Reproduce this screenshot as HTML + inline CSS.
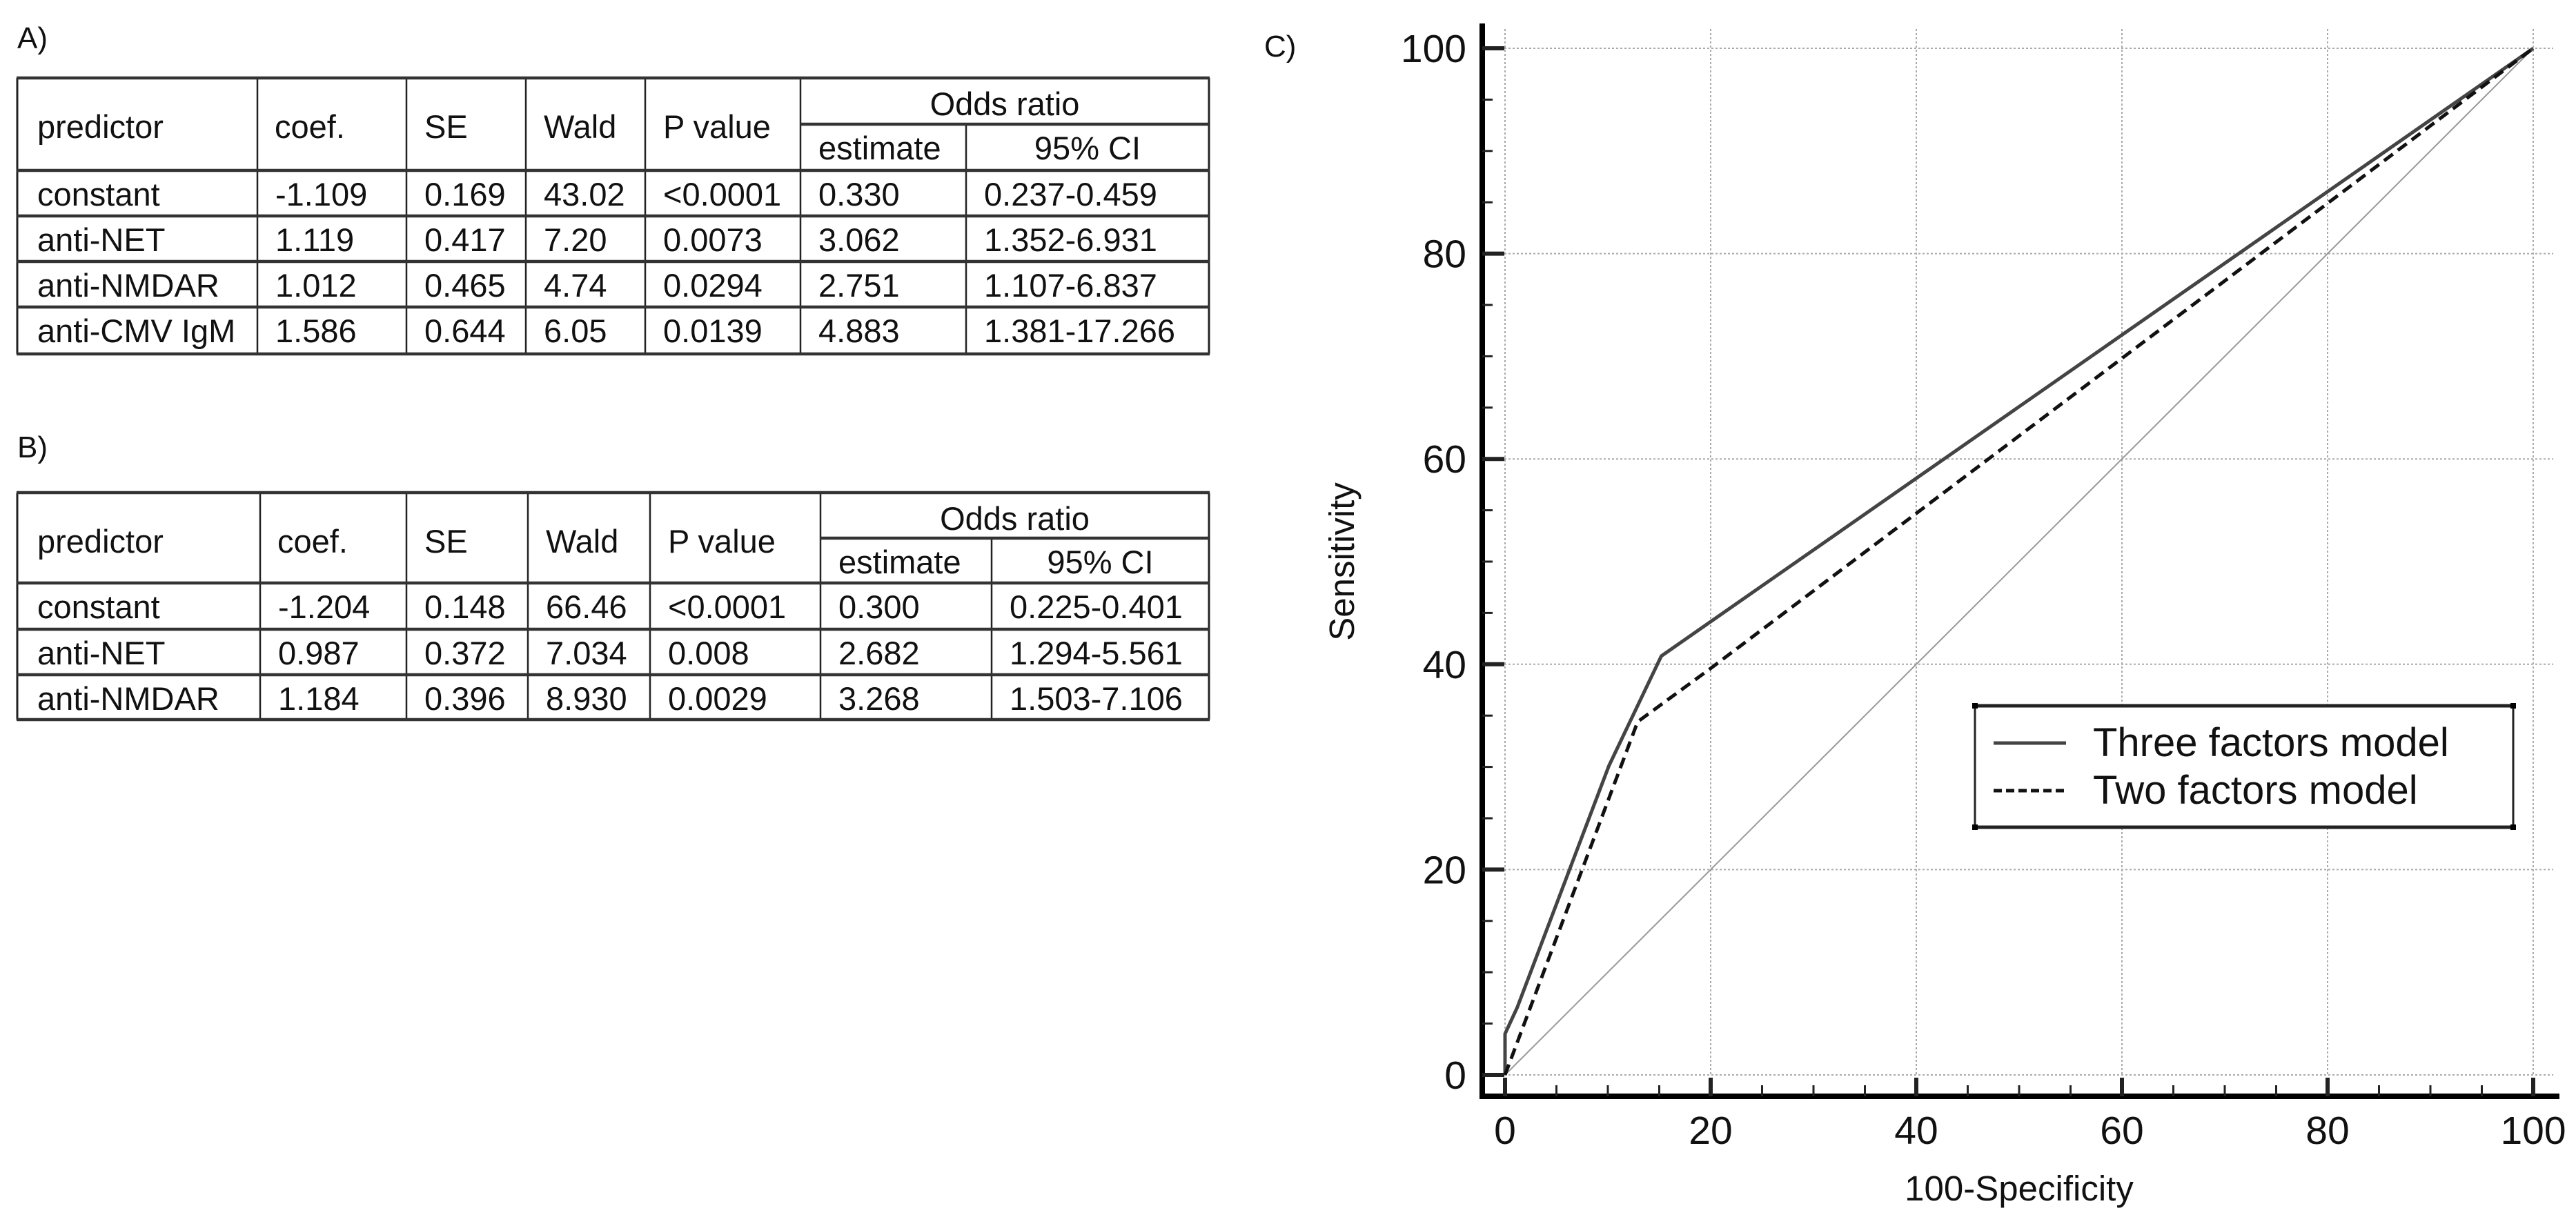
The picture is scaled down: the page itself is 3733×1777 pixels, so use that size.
<!DOCTYPE html>
<html><head><meta charset="utf-8"><style>
html,body{margin:0;padding:0;background:#fff;}
svg{display:block;}
text{font-family:"Liberation Sans",sans-serif;fill:#111;}
</style></head><body>
<svg id="fig" width="3733" height="1777" viewBox="0 0 3733 1777" xmlns="http://www.w3.org/2000/svg">
<g id="tables"></g>
<g id="chart"></g>
</svg>
<script>
// ---- Chart data ----
const xTicks = [0,20,40,60,80,100];
const yTicks = [0,20,40,60,80,100];
const threeX = [0,0,1.2,10.1,15.2,100];
const threeY = [0,4,6.6,30.1,40.8,100];
const twoX = [0,12.9,20,100];
const twoY = [0,34.4,39.6,100];
const refX = [0,100];
const refY = [0,100];
const seriesNames = ["Three factors model","Two factors model"];

// ---- Table data ----
const headA = ["predictor","coef.","SE","Wald","P value"];
const rowsA = [
 ["constant","-1.109","0.169","43.02","<0.0001","0.330","0.237-0.459"],
 ["anti-NET","1.119","0.417","7.20","0.0073","3.062","1.352-6.931"],
 ["anti-NMDAR","1.012","0.465","4.74","0.0294","2.751","1.107-6.837"],
 ["anti-CMV IgM","1.586","0.644","6.05","0.0139","4.883","1.381-17.266"]];
const rowsB = [
 ["constant","-1.204","0.148","66.46","<0.0001","0.300","0.225-0.401"],
 ["anti-NET","0.987","0.372","7.034","0.008","2.682","1.294-5.561"],
 ["anti-NMDAR","1.184","0.396","8.930","0.0029","3.268","1.503-7.106"]];

const NS="http://www.w3.org/2000/svg";
const FS=47;
function mk(tag, attrs, parent){const e=document.createElementNS(NS,tag);for(const k in attrs)e.setAttribute(k,attrs[k]);parent.appendChild(e);return e;}
function txt(s, attrs, parent){const e=mk('text',attrs,parent);e.textContent=s;return e;}

// ---- Tables ----
const tg=document.getElementById('tables');
function drawTable(label, labelY, cols, ys, rows, name){
  const g=mk('g',{},tg);
  
  
  const lb=txt(label,{x:25,y:labelY+15,'font-size':44},g);
  
  
  const L=cols[0],R=cols[cols.length-1];
  const top=ys[0],mid=ys[1],bot=ys[ys.length-1];
  for(let i=1;i<cols.length-1;i++){
    const y1=(i===cols.length-2)?mid:top;
    mk('line',{x1:cols[i],y1:y1,x2:cols[i],y2:bot,stroke:'#222','stroke-width':2.5},g);
  }
  mk('line',{x1:L,y1:top,x2:L,y2:bot,stroke:'#222','stroke-width':3},g);
  mk('line',{x1:R,y1:top,x2:R,y2:bot,stroke:'#222','stroke-width':3},g);
  mk('line',{x1:cols[5],y1:mid,x2:R,y2:mid,stroke:'#333','stroke-width':4.5},g);
  for(let j=0;j<ys.length;j++){ if(j===1)continue;
    mk('line',{x1:L-1,y1:ys[j],x2:R+1,y2:ys[j],stroke:'#333','stroke-width':4.5},g);}
  const hx=[L+29,cols[1]+25,cols[2]+26,cols[3]+26,cols[4]+26];
  headA.forEach((h,i)=>{const t=txt(h,{x:hx[i],y:top+87,'font-size':FS},g);
    
    });
  let t=txt('Odds ratio',{x:(cols[5]+R)/2,y:top+54,'font-size':FS,'text-anchor':'middle'},g);
  
  
  t=txt('estimate',{x:cols[5]+26,y:mid+51,'font-size':FS},g);
  
  
  t=txt('95% CI',{x:(cols[6]+R)/2,y:mid+51,'font-size':FS,'text-anchor':'middle'},g);
  
  
  rows.forEach((r,ri)=>{
    const by=ys[2+ri]+51;
    r.forEach((c,ci)=>{
      const x=(ci===0)?L+29:cols[ci]+26;
      const e=txt(c,{x:x,y:by,'font-size':FS},g);
      
      
    });
  });
}
drawTable('A)',55,[25,373,589,762,935,1160,1400,1752],[113,180,247,313,379,445,513],rowsA,'table-a');
drawTable('B)',648,[25,377,589,765,942,1189,1437,1752],[714,780,845,912,978,1043],rowsB,'table-b');

// ---- Chart ----
const cg=document.getElementById('chart');
const X0=2181,X1=3671,Y0=1558,Y1=70;
const sx=v=>X0+(X1-X0)*v/100;
const sy=v=>Y0-(Y0-Y1)*v/100;
let lab=txt('C)',{x:1832,y:82,'font-size':44},cg);


xTicks.forEach(v=>{const l=mk('line',{x1:sx(v),y1:42,x2:sx(v),y2:Y0,stroke:'#aaa','stroke-width':2,'stroke-dasharray':'3 3'},cg);
  
  });
yTicks.forEach(v=>{const l=mk('line',{x1:2150,y1:sy(v),x2:3700,y2:sy(v),stroke:'#aaa','stroke-width':2,'stroke-dasharray':'3 3'},cg);
  
  });
let ref=mk('polyline',{points:refX.map((x,i)=>sx(x)+','+sy(refY[i])).join(' '),fill:'none',stroke:'#999','stroke-width':2},cg);


let s1=mk('polyline',{points:threeX.map((x,i)=>sx(x)+','+sy(threeY[i])).join(' '),fill:'none',stroke:'#444','stroke-width':5,'stroke-linejoin':'round'},cg);


let s2=mk('polyline',{points:twoX.map((x,i)=>sx(x)+','+sy(twoY[i])).join(' '),fill:'none',stroke:'#111','stroke-width':5,'stroke-dasharray':'16 9'},cg);


let ya=mk('line',{x1:2148,y1:34,x2:2148,y2:1593,stroke:'#000','stroke-width':8},cg);


let xa=mk('line',{x1:2144,y1:1589,x2:3709,y2:1589,stroke:'#000','stroke-width':8},cg);


for(let v=0;v<=100;v+=5){
  const major=v%20===0;
  mk('line',{x1:2148,y1:sy(v),x2:major?2180:2163,y2:sy(v),stroke:'#222','stroke-width':major?6:3},cg);
  mk('line',{x1:sx(v),y1:major?1562:1573,x2:sx(v),y2:1589,stroke:'#222','stroke-width':major?6:3},cg);
}
xTicks.forEach(v=>{const t=txt(String(v),{x:sx(v),y:1658,'font-size':57,'text-anchor':'middle'},cg);
  
  });
yTicks.forEach(v=>{const t=txt(String(v),{x:2125,y:sy(v)+20,'font-size':57,'text-anchor':'end'},cg);
  
  });
let xt=txt('100-Specificity',{x:sx(50),y:1740,'font-size':51,'text-anchor':'middle'},cg);


let yt=txt('Sensitivity',{x:0,y:0,'font-size':51,'text-anchor':'middle',transform:'translate(1962,'+sy(50)+') rotate(-90)'},cg);


const lg=mk('g',{},cg);


mk('rect',{x:2862,y:1023,width:780,height:176,fill:'#fff',stroke:'none'},lg);
mk('line',{x1:2862,y1:1023,x2:3642,y2:1023,stroke:'#222','stroke-width':5},lg);
mk('line',{x1:2862,y1:1199,x2:3642,y2:1199,stroke:'#222','stroke-width':5},lg);
mk('line',{x1:2862,y1:1023,x2:2862,y2:1199,stroke:'#222','stroke-width':3},lg);
mk('line',{x1:3642,y1:1023,x2:3642,y2:1199,stroke:'#222','stroke-width':3},lg);
[[2862,1023],[3642,1023],[2862,1199],[3642,1199]].forEach(p=>mk('rect',{x:p[0]-4,y:p[1]-4,width:8,height:8,fill:'#000'},lg));
const legY=[1077,1146];
seriesNames.forEach((n,i)=>{
  const l=mk('line',{x1:2889,y1:legY[i],x2:2994,y2:legY[i],stroke:i?'#111':'#444','stroke-width':5,'stroke-dasharray':i?'12 6':'none'},lg);
  
  
  const t=txt(n,{x:3033,y:legY[i]+19,'font-size':58},lg);
  
  
});
</script>
</body></html>
